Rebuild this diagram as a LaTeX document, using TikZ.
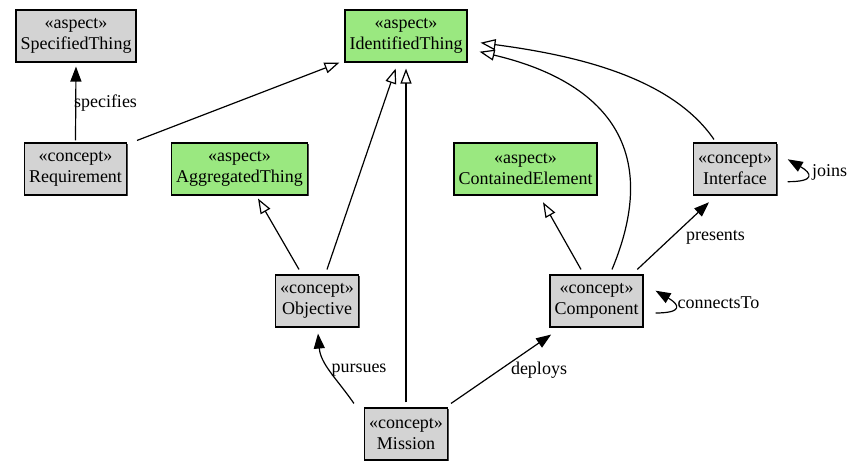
\documentclass[tikz,border=0pt]{standalone}
\usepackage{fontspec}
\setmainfont{Liberation Serif}
\newfontfamily\umlfont{Liberation Serif}
\usepackage{xcolor}
\definecolor{AspectGreen}{HTML}{9AE880}
\definecolor{ConceptGray}{HTML}{D3D3D3}
\usepackage{tikz}
\usetikzlibrary{arrows.meta,shadows}

\begin{document}
\begin{tikzpicture}[
    x=1pt, y=1pt,
    every node/.style={font=\umlfont\fontsize{18pt}{20.5pt}\selectfont},
    concept/.style={rectangle, draw, line width=1.1pt, fill=ConceptGray, align=center,
        minimum height=52pt, inner xsep=4.5pt,
        drop shadow={shadow xshift=1.2pt, shadow yshift=-1.2pt, fill=black!70, opacity=1}},
    aspect/.style={concept, fill=AspectGreen},
    lbl/.style={inner sep=0pt},
    gen/.style={-{Triangle[open, length=15pt, width=11pt]}, line width=1.2pt},
    rel/.style={-{Triangle[length=15pt, width=11pt]}, line width=1.2pt},
]
\useasboundingbox (0,0) rectangle (852,471);

% Aspects
\node[concept] (spec) at (76,435) {«aspect»\\SpecifiedThing};
\node[aspect] (ident) at (406,435) {«aspect»\\IdentifiedThing};
\node[aspect] (aggr) at (239.5,302) {«aspect»\\AggregatedThing};
\node[aspect] (cont) at (525.5,302) {«aspect»\\ContainedElement};

% Concepts
\node[concept] (req) at (75.5,302) {«concept»\\Requirement};
\node[concept] (iface) at (735,302) {«concept»\\Interface};
\node[concept] (obj) at (317,170) {«concept»\\Objective};
\node[concept] (comp) at (596.5,170) {«concept»\\Component};
\node[concept] (mis) at (406,37) {«concept»\\Mission};

% Generalisations
\draw[gen] ([shift={(10,2)}]req.north east) -- ([xshift=-5]ident.south west);
\draw[gen] ([shift={(-18,5)}]obj.north) -- ([shift={(18.5,-3)}]aggr.south);
\draw[gen] ([shift={(10,5)}]obj.north) -- ([shift={(-10.3,-6)}]ident.south);
\draw[gen] ([yshift=5]mis.north) -- ([yshift=-6]ident.south);
\draw[gen] ([shift={(-15.5,5)}]comp.north) -- ([shift={(17.5,-6.7)}]cont.south);
\draw[gen] ([shift={(15.5,5)}]comp.north) .. controls +(58,139) and +(102,-24) .. ([shift={(12,-15.7)}]ident.east);
\draw[gen] ([shift={(-21,3)}]iface.north) .. controls +(-44,64) and +(90,-12) .. ([shift={(13,-6.7)}]ident.east);

% Relations
\draw[rel] ([yshift=2]req.north) -- ([yshift=-4]spec.south)
    node[lbl] (lspec) at (105.5,367.5) {specifies};
\draw[rel] ([shift={(-10,4)}]mis.north west) to[out=125, in=-85] ([shift={(1,-6)}]obj.south)
    node[lbl] (lpurs) at (359,101) {pursues};
\draw[rel] ([shift={(3,4)}]mis.north east) -- ([shift={(1.7,-7)}]comp.south west)
    node[lbl] (ldepl) at (539,101) {deploys};
\draw[rel] ([shift={(-6.3,5)}]comp.north east) -- ([shift={(-26,-6.7)}]iface.south)
    node[lbl] (lpres) at (715.5,234) {presents};
\draw[rel] ([shift={(10.7,-12.7)}]iface.east) to[out=0, in=-30, looseness=3.2] ([shift={(10.7,9.7)}]iface.east)
    node[lbl] (ljoin) at (829.5,299) {joins};
\draw[rel] ([shift={(12,-12)}]comp.east) to[out=0, in=-30, looseness=3.2] ([shift={(12,10.3)}]comp.east)
    node[lbl] (lconn) at (718.5,168) {connectsTo};

\end{tikzpicture}
\end{document}
